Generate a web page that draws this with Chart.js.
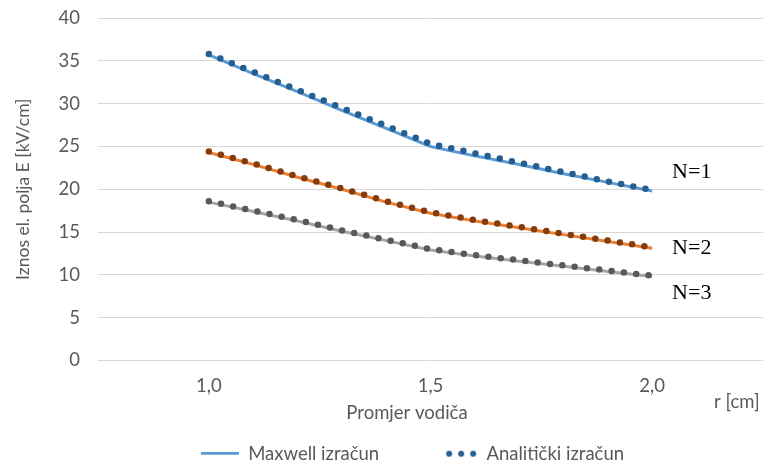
<!DOCTYPE html>
<html>
<head>
<meta charset="utf-8">
<script src="https://cdn.jsdelivr.net/npm/chart.js@4"></script>
<style>
  html, body { margin: 0; padding: 0; background: #fff; }
  #wrap { width: 763px; height: 465px; }
</style>
</head>
<body>
<div id="wrap"><canvas id="chart"></canvas></div>
<script>
// r [cm]
const radius = [1.0, 1.1, 1.2, 1.3, 1.4, 1.5, 1.6, 1.7, 1.8, 1.9, 2.0]

// Maxwell izračun (solid lines)
const maxwellN1 = [35.7, 33.5, 31.4, 29.2, 27.1, 25.0, 23.9, 22.9, 21.8, 20.8, 19.8]
const maxwellN2 = [24.3, 22.9, 21.4, 20.0, 18.5, 17.2, 16.3, 15.5, 14.7, 13.9, 13.1]
const maxwellN3 = [18.5, 17.4, 16.3, 15.1, 14.0, 12.9, 12.2, 11.6, 11.0, 10.4, 9.8]

// Analitički izračun (dotted lines)
const analyticN1 = [35.8, 33.7, 31.6, 29.5, 27.4, 25.3, 24.2, 23.1, 22.0, 20.9, 19.9]
const analyticN2 = [24.4, 23.0, 21.5, 20.1, 18.6, 17.3, 16.4, 15.6, 14.8, 14.0, 13.2]
const analyticN3 = [18.6, 17.5, 16.4, 15.2, 14.1, 13.0, 12.3, 11.7, 11.1, 10.5, 9.9]

const xTicks = [1.0, 1.5, 2.0]
const yTicks = [0, 5, 10, 15, 20, 25, 30, 35, 40]

const font = "Lato, 'Liberation Sans', sans-serif"
const textColor = '#595959'

function points(ys) {
  return radius.map((x, i) => ({ x, y: ys[i] }))
}

function solid(label, ys, color) {
  return {
    label, data: points(ys), borderColor: color, backgroundColor: color,
    borderWidth: 3, pointRadius: 0, tension: 0, order: 2
  }
}

function dotted(label, ys, color) {
  return {
    label, data: points(ys), borderColor: color, backgroundColor: color,
    borderWidth: 6.5, borderDash: [0, 12.4], borderCapStyle: 'round',
    pointRadius: 0, tension: 0, order: 1
  }
}

// legend symbols, drawn at the right end of a 92px wide box
function lineIcon(color) {
  let c = document.createElement('canvas')
  c.width = 92; c.height = 4
  let ctx = c.getContext('2d')
  ctx.fillStyle = color
  ctx.fillRect(54, 0, 38, 3)
  return c
}
function dotsIcon(color) {
  let c = document.createElement('canvas')
  c.width = 92; c.height = 8
  let ctx = c.getContext('2d')
  ctx.fillStyle = color
  for (let i = 0; i < 3; i++) {
    ctx.beginPath()
    ctx.arc(64 + i * 12, 4, 3, 0, Math.PI * 2)
    ctx.fill()
  }
  return c
}

const annotations = {
  id: 'annotations',
  afterLayout(chart) {
    // legend sits a bit lower than chart.js puts it
    chart.legend.top += 8
    chart.legend.bottom += 8
  },
  afterDraw(chart) {
    const ctx = chart.ctx
    const xs = chart.scales.x, ys = chart.scales.y
    ctx.save()
    ctx.fillStyle = textColor
    ctx.textBaseline = 'middle'
    ctx.font = `18.5px ${font}`
    ctx.textAlign = 'center'
    ctx.fillText('Promjer vodiča', 407, 413)
    ctx.textAlign = 'left'
    ctx.fillText('r [cm]', 714, 402)

    ctx.fillStyle = '#000'
    ctx.font = "22px 'Liberation Serif', serif"
    const labels = [['N=1', 22.0], ['N=2', 13.1], ['N=3', 7.8]]
    labels.forEach(([t, v]) => {
      ctx.fillText(t, xs.getPixelForValue(2.045), ys.getPixelForValue(v))
    })
    ctx.restore()
  }
}

new Chart(document.getElementById('chart'), {
  type: 'line',
  data: {
    datasets: [
      solid('Maxwell N=1', maxwellN1, '#5B9BD5'),
      solid('Maxwell N=2', maxwellN2, '#ED7D31'),
      solid('Maxwell N=3', maxwellN3, '#A5A5A5'),
      dotted('Analitički N=1', analyticN1, '#255E91'),
      dotted('Analitički N=2', analyticN2, '#843C0C'),
      dotted('Analitički N=3', analyticN3, '#595959')
    ]
  },
  options: {
    responsive: true,
    maintainAspectRatio: false,
    animation: false,
    layout: { padding: { top: 18, right: 0, left: 8, bottom: 0 } },
    scales: {
      x: {
        type: 'linear', min: 0.75, max: 2.25,
        afterBuildTicks: s => { s.ticks = xTicks.map(v => ({ value: v })) },
        afterFit: s => { s.height = 70 },
        grid: { display: false, drawTicks: false },
        border: { display: false },
        ticks: {
          padding: 14, color: textColor, font: { family: font, size: 18.5 },
          callback: v => v.toFixed(1).replace('.', ',')
        }
      },
      y: {
        min: 0, max: 40,
        afterBuildTicks: s => { s.ticks = yTicks.map(v => ({ value: v })) },
        afterFit: s => { s.width = 90 },
        grid: { color: '#D9D9D9', lineWidth: 1, drawTicks: true, tickLength: 18, tickColor: 'transparent' },
        border: { display: false },
        ticks: { padding: 0, color: textColor, font: { family: font, size: 18.5 } },
        title: {
          display: true, text: 'Iznos el. polja E [kV/cm]', color: textColor,
          font: { family: font, size: 17.5 }, padding: { top: 5, bottom: 0 }
        }
      }
    },
    plugins: {
      tooltip: { enabled: false },
      legend: {
        position: 'bottom',
        labels: {
          color: textColor,
          font: { family: font, size: 18.5 },
          usePointStyle: true,
          pointStyleWidth: 92,
          padding: 6,
          generateLabels: () => [
            { text: 'Maxwell izračun', pointStyle: lineIcon('#5B9BD5'), fontColor: textColor, lineWidth: 0, strokeStyle: 'transparent', fillStyle: 'transparent' },
            { text: 'Analitički izračun', pointStyle: dotsIcon('#255E91'), fontColor: textColor, lineWidth: 0, strokeStyle: 'transparent', fillStyle: 'transparent' }
          ]
        }
      }
    }
  },
  plugins: [annotations]
})
</script>
</body>
</html>
